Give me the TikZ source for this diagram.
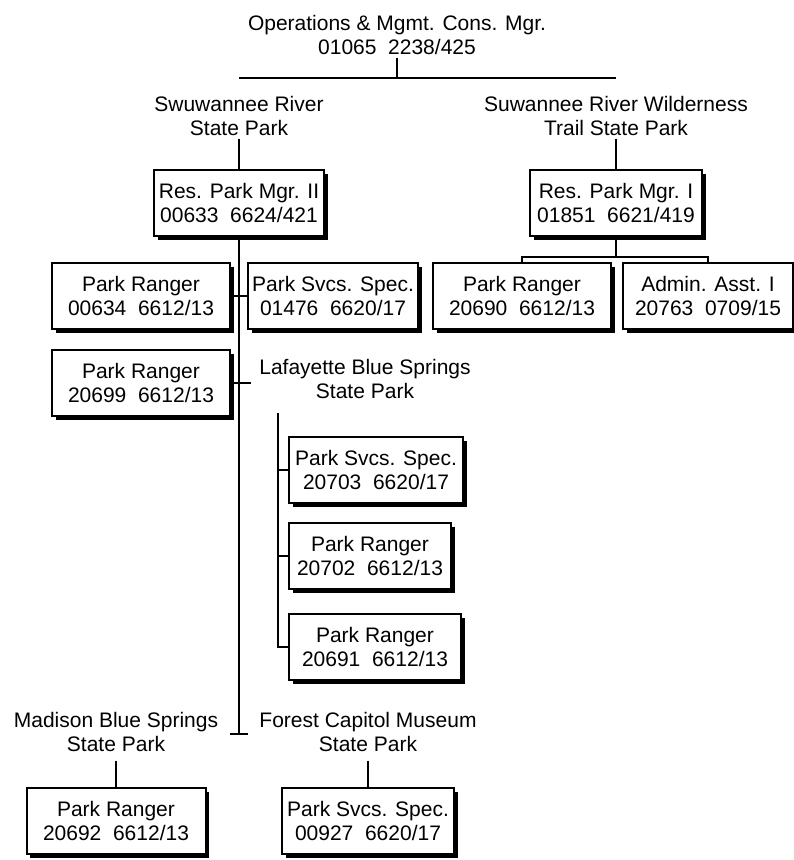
\documentclass[tikz,border=0pt]{standalone}
\usepackage{fontspec}
\setmainfont{Liberation Sans}
\usetikzlibrary{positioning,shadows}

\begin{document}
\begin{tikzpicture}[
  x=1pt, y=-1pt,
  every node/.append style={font=\fontsize{21}{23.5}\selectfont},
  post/.style={draw=black, line width=2pt, fill=white, inner sep=0pt,
               minimum height=66pt, align=center,
               general shadow={fill=black, shadow xshift=3.5pt,
                               shadow yshift=-3.5pt}},
  unit/.style={align=center, inner sep=0pt},
  link/.style={line width=2pt}
]
\useasboundingbox[fill=white] (0,0) rectangle (794,860);

% ---- head of the chart ---------------------------------------------------
\node[unit] (ops) at (397,35) {Operations \& Mgmt. Cons. Mgr.\\01065~~2238/425};
\coordinate (bar) at (397,78);
\node[unit] (swr) at (239,116) {Swuwannee River\\State Park};
\node[unit] (srw) at (616,116) {Suwannee River Wilderness\\Trail State Park};
\draw[link, shorten <=3pt] (ops) -- (bar);
\draw[link] (swr.north |- bar) -- (srw.north |- bar);

% ---- park managers -------------------------------------------------------
\node[post, minimum width=170pt] (rpm2) at (239,203) {Res. Park Mgr. II\\00633~~6624/421};
\node[post, minimum width=172pt] (rpm1) at (616,203) {Res. Park Mgr. I\\01851~~6621/419};
\draw[link, shorten <=3pt] (swr) -- (rpm2);
\draw[link, shorten <=3pt] (srw) -- (rpm1);

% ---- wilderness trail staff ----------------------------------------------
\node[post, minimum width=178pt] (pr690) at (522,296) {Park Ranger\\20690~~6612/13};
\node[post, minimum width=170pt] (aa763) at (708,296) {Admin. Asst. I\\20763~~0709/15};
\coordinate (fork) at (616,257);
\draw[link] (rpm1) -- (fork);
\draw[link] (pr690.north) |- (fork) -| (aa763.north);

% ---- swuwannee river staff, on the trunk ----------------------------------
\coordinate (tend) at (239,734);
\draw[link] (rpm2) -- (tend);
\draw[link] ([xshift=-9pt]tend) -- ([xshift=9pt]tend);

\node[post, minimum width=178pt] (pr634) at (141,296) {Park Ranger\\00634~~6612/13};
\node[post, minimum width=170pt] (pss1476) at (333,296) {Park Svcs. Spec.\\01476~~6620/17};
\draw[link] (pr634) -- (pss1476);

\node[post, minimum width=178pt] (pr699) at (141,383) {Park Ranger\\20699~~6612/13};
\coordinate (lbsjoin) at (251,383);
\draw[link] (pr699) -- (lbsjoin);

% ---- lafayette blue springs ----------------------------------------------
\node[unit] (lbs) at (365,379) {Lafayette Blue Springs\\State Park};
\coordinate (lbsdrop) at (278,413);
\node[post, minimum width=174pt, anchor=west] (pss703) at (288,470) {Park Svcs. Spec.\\20703~~6620/17};
\node[post, minimum width=162pt, anchor=west] (pr702) at (288,556) {Park Ranger\\20702~~6612/13};
\node[post, minimum width=172pt, anchor=west] (pr691) at (288,647) {Park Ranger\\20691~~6612/13};
\draw[link] (lbsdrop) |- (pr691.west);
\draw[link] (lbsdrop |- pss703.west) -- (pss703.west);
\draw[link] (lbsdrop |- pr702.west) -- (pr702.west);

% ---- madison and forest capitol ------------------------------------------
\node[unit] (mbs) at (116,732) {Madison Blue Springs\\State Park};
\node[unit] (fcm) at (368,732) {Forest Capitol Museum\\State Park};
\node[post, minimum width=179pt] (pr692) at (116,821) {Park Ranger\\20692~~6612/13};
\node[post, minimum width=172pt] (pss927) at (368,821) {Park Svcs. Spec.\\00927~~6620/17};
\draw[link, shorten <=9pt] (mbs) -- (pr692);
\draw[link, shorten <=9pt] (fcm) -- (pss927);
\end{tikzpicture}
\end{document}
